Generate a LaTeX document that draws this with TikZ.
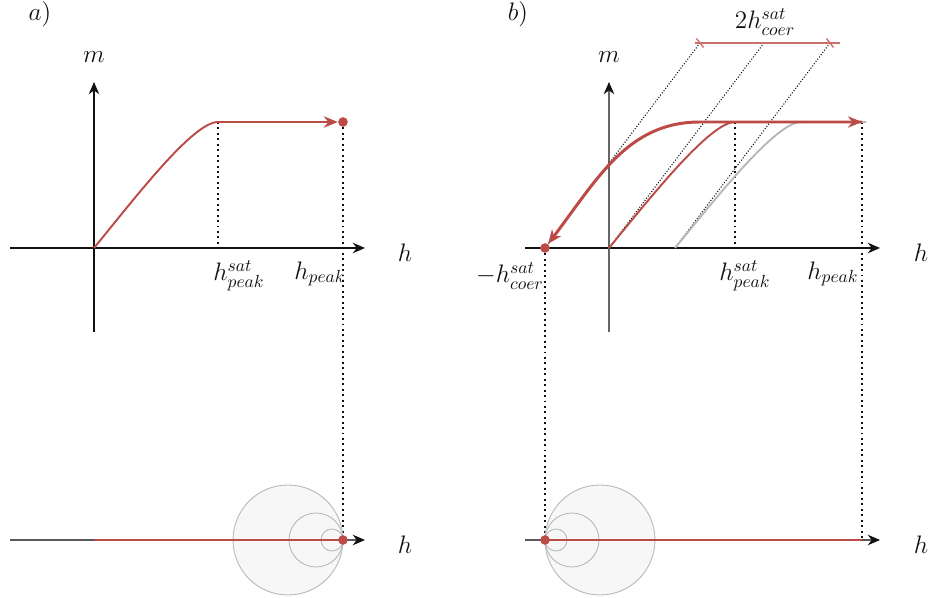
\documentclass[tikz,border=0pt]{standalone}
\usepackage{amsmath}
\usetikzlibrary{positioning,arrows.meta,calc}
\definecolor{ink}{HTML}{111111}
\definecolor{rust}{HTML}{BC4B47}
\definecolor{ash}{HTML}{B8B8B8}
\definecolor{fog}{HTML}{F7F7F7}
\tikzset{
  axis/.style={-{Stealth[length=7pt,width=6pt,color=ink]}, line width=0.7pt, color=ink},
  curve/.style={line width=1.1pt, color=rust},
  tip/.style={-{Stealth[length=8pt,width=6.5pt]}},
  drop/.style={dotted, line width=1.1pt, color=ink},
  guide/.style={densely dotted, line width=0.6pt, color=ink},
  dot/.style={circle, fill=rust, inner sep=0pt, minimum size=5.5pt},
  ring/.style={draw=ash, fill=fog, line width=0.5pt},
  lbl/.style={font=\Large, text=ink, inner sep=1pt},
  bar/.style={line width=0.8pt, color=rust!80},
}
\begin{document}
\begin{tikzpicture}[x=0.2cm,y=0.2cm]
  \useasboundingbox (0,0) rectangle (93,59.8);
  % panel a
  \node[lbl] (taga) at (4.0,58.4) {$a)$};
  \coordinate (oa) at (9.4,35);
  \coordinate (sata) at (21.8,47.6);
  \coordinate (peaka) at (34.3,47.6);
  \coordinate (basea) at (34.3,5.8);
  \draw[axis] (1,35) -- (36.5,35);
  \draw[axis] (9.4,26.6) -- (9.4,51.6);
  \node[lbl] (ma) at (9.4,54.1) {$m$};
  \node[lbl] (ha) at (40.5,34.5) {$h$};
  \draw[drop] (sata) -- (sata |- oa);
  \draw[drop] (peaka) -- (basea);
  \draw[curve] (oa) .. controls +(4.1,5.0) and +(-2.5,0) .. (sata);
  \node[dot] (enda) at (peaka) {};
  \draw[curve,tip] (sata) -- (enda);
  \node[lbl] (sla) at (23.9,32.2) {$h^{sat}_{peak}$};
  \node[lbl] (pla) at (32.0,32.4) {$h_{peak}$};
  % bottom a
  \foreach \c/\r in {28.8/5.5, 31.6/2.7, 33.2/1.1}
    \draw[ring] (\c,5.8) circle (\r);
  \draw[axis,color=black!65] (1,5.8) -- (36.5,5.8);
  \node[dot] (bdota) at (basea) {};
  \draw[curve] (9.4,5.8) -- (bdota);
  \node[lbl] (hba) at (40.5,5.3) {$h$};

  % panel b
  \node[lbl] (tagb) at (51.8,58.4) {$b)$};
  \coordinate (ob) at (60.9,35);
  \coordinate (cb) at (54.5,35);
  \coordinate (gb) at (67.5,35);
  \coordinate (satb) at (73.5,47.6);
  \coordinate (gsatb) at (80.1,47.6);
  \coordinate (turnb) at (70.0,47.6);
  \coordinate (peakb) at (86.2,47.6);
  \coordinate (baseb) at (86.2,5.8);
  \coordinate (cbase) at (54.5,5.8);
  \coordinate (tl) at (70.0,55.5);
  \coordinate (tm) at (76.4,55.5);
  \coordinate (tr) at (83.0,55.5);
  \draw[axis] (52.5,35) -- (88,35);
  \draw[axis,color=black!60] (60.9,26.6) -- (60.9,51.6);
  \node[lbl] (mb) at (60.9,54.1) {$m$};
  \node[lbl] (hb) at (92.1,34.5) {$h$};
  \draw[guide] (cb) -- (tl);
  \draw[guide] (ob) -- (tm);
  \draw[guide] (gb) -- (tr);
  \draw[bar] (69.5,55.5) -- (84.0,55.5);
  \draw[bar] ($(tl)+(-0.35,0.45)$) -- ($(tl)+(0.35,-0.45)$);
  \draw[bar] ($(tr)+(-0.35,0.45)$) -- ($(tr)+(0.35,-0.45)$);
  \node[lbl] (twoc) at (76.5,57.6) {$2h^{sat}_{coer}$};
  \draw[drop] (satb) -- (satb |- ob);
  \draw[drop] (peakb) -- (baseb);
  \draw[drop] (cb) -- (cbase);
  \draw[curve,color=ash] (gb) .. controls +(4.1,5.0) and +(-2.5,0) .. (gsatb) -- (86.6,47.6);
  \node[dot] (dotb) at (cb) {};
  \draw[curve,line width=1.7pt,tip] (peakb) -- (turnb)
    .. controls (62.8,47.6) and (59.8,42.0) .. (dotb);
  \draw[curve,tip] (ob) .. controls +(4.1,5.0) and +(-2.5,0) .. (satb) -- (peakb);
  \node[lbl] (clb) at (51.0,32.2) {$-h^{sat}_{coer}$};
  \node[lbl] (slb) at (74.5,32.2) {$h^{sat}_{peak}$};
  \node[lbl] (plb) at (83.3,32.4) {$h_{peak}$};
  % bottom b
  \foreach \c/\r in {60.0/5.5, 57.2/2.7, 55.6/1.1}
    \draw[ring] (\c,5.8) circle (\r);
  \draw[axis,color=black!65] (52.5,5.8) -- (88,5.8);
  \node[dot] (bdotb) at (cbase) {};
  \draw[curve] (bdotb) -- (baseb);
  \node[lbl] (hbb) at (92.1,5.3) {$h$};
\end{tikzpicture}
\end{document}
